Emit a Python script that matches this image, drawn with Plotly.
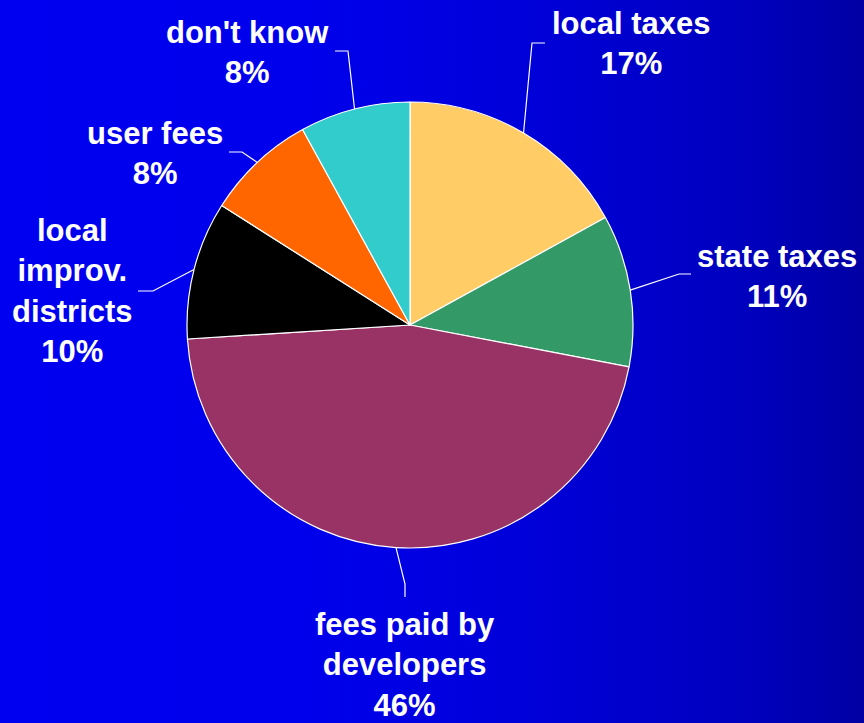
import math
import base64
import plotly.graph_objects as go

# Survey: how infrastructure should be funded
categories = ["local taxes", "state taxes", "fees paid by developers",
              "local improv. districts", "user fees", "don't know"]
label_lines = [["local taxes"], ["state taxes"], ["fees paid by", "developers"],
               ["local", "improv.", "districts"], ["user fees"], ["don't know"]]
shares = [17, 11, 46, 10, 8, 8]
colors = ["#FFCC66", "#339966", "#993366", "#000000", "#FF6600", "#33CCCC"]

W, H = 864, 723
CX, CY, R = 410, 325, 223  # pie centre and radius in pixels

# Label placement (pixel space): leader elbow, leader end, text centre
label_layout = [
    {"elbow": (532, 43), "end": (545, 43), "text": (631, 43)},
    {"elbow": (679, 274), "end": (691, 274), "text": (777, 276)},
    {"elbow": (405, 584), "end": (405, 597), "text": (405, 665)},
    {"elbow": (153, 291), "end": (138, 291), "text": (72, 291)},
    {"elbow": (242, 152), "end": (229, 152), "text": (155, 153)},
    {"elbow": (348, 51), "end": (335, 51), "text": (247, 52)},
]

# Horizontal blue gradient for the page background
svg = (
    f'<svg xmlns="http://www.w3.org/2000/svg" width="{W}" height="{H}">'
    '<defs><linearGradient id="g" x1="0" y1="0" x2="1" y2="0">'
    '<stop offset="0" stop-color="#0000F0"/>'
    '<stop offset="0.35" stop-color="#0000EC"/>'
    '<stop offset="0.6" stop-color="#0000DA"/>'
    '<stop offset="0.85" stop-color="#0000C0"/>'
    '<stop offset="1" stop-color="#0000A4"/>'
    '</linearGradient></defs>'
    f'<rect width="{W}" height="{H}" fill="url(#g)"/></svg>'
)
bg_uri = "data:image/svg+xml;base64," + base64.b64encode(svg.encode()).decode()

fig = go.Figure()

fig.add_trace(go.Pie(
    labels=categories,
    values=shares,
    marker=dict(colors=colors, line=dict(color="white", width=1.2)),
    sort=False,
    direction="clockwise",
    rotation=0,
    textinfo="none",
    hoverinfo="label+percent",
    showlegend=False,
    domain=dict(x=[(CX - R) / W, (CX + R) / W],
                y=[(H - CY - R) / H, (H - CY + R) / H]),
))

# Leader lines and labels, anchored at each slice's mid-angle on the rim
total = sum(shares)
cum = 0
annotations = []
for lines, share, pos in zip(label_lines, shares, label_layout):
    mid = (cum + share / 2) / total * 2 * math.pi
    cum += share
    sx = CX + R * math.sin(mid)
    sy = CY - R * math.cos(mid)
    ex, ey = pos["elbow"]
    nx, ny = pos["end"]
    fig.add_trace(go.Scatter(
        x=[sx, ex, nx], y=[sy, ey, ny], mode="lines",
        line=dict(color="white", width=1.2),
        hoverinfo="skip", showlegend=False,
    ))
    text = "<br>".join(lines + [f"{share}%"])
    tx, ty = pos["text"]
    annotations.append(dict(
        x=tx, y=ty, xref="x", yref="y", text=text, showarrow=False,
        xanchor="center", yanchor="middle", align="center",
        font=dict(family="Liberation Sans, Arial, sans-serif", size=31,
                  color="white", weight="bold"),
    ))

fig.update_layout(
    width=W, height=H,
    margin=dict(l=0, r=0, t=0, b=0),
    paper_bgcolor="#0000E0",
    plot_bgcolor="rgba(0,0,0,0)",
    xaxis=dict(range=[0, W], visible=False, fixedrange=True),
    yaxis=dict(range=[H, 0], visible=False, fixedrange=True),
    annotations=annotations,
    images=[dict(source=bg_uri, xref="paper", yref="paper", x=0, y=1,
                 sizex=1, sizey=1, sizing="stretch", layer="below",
                 xanchor="left", yanchor="top")],
)

fig.write_html("out.html")
